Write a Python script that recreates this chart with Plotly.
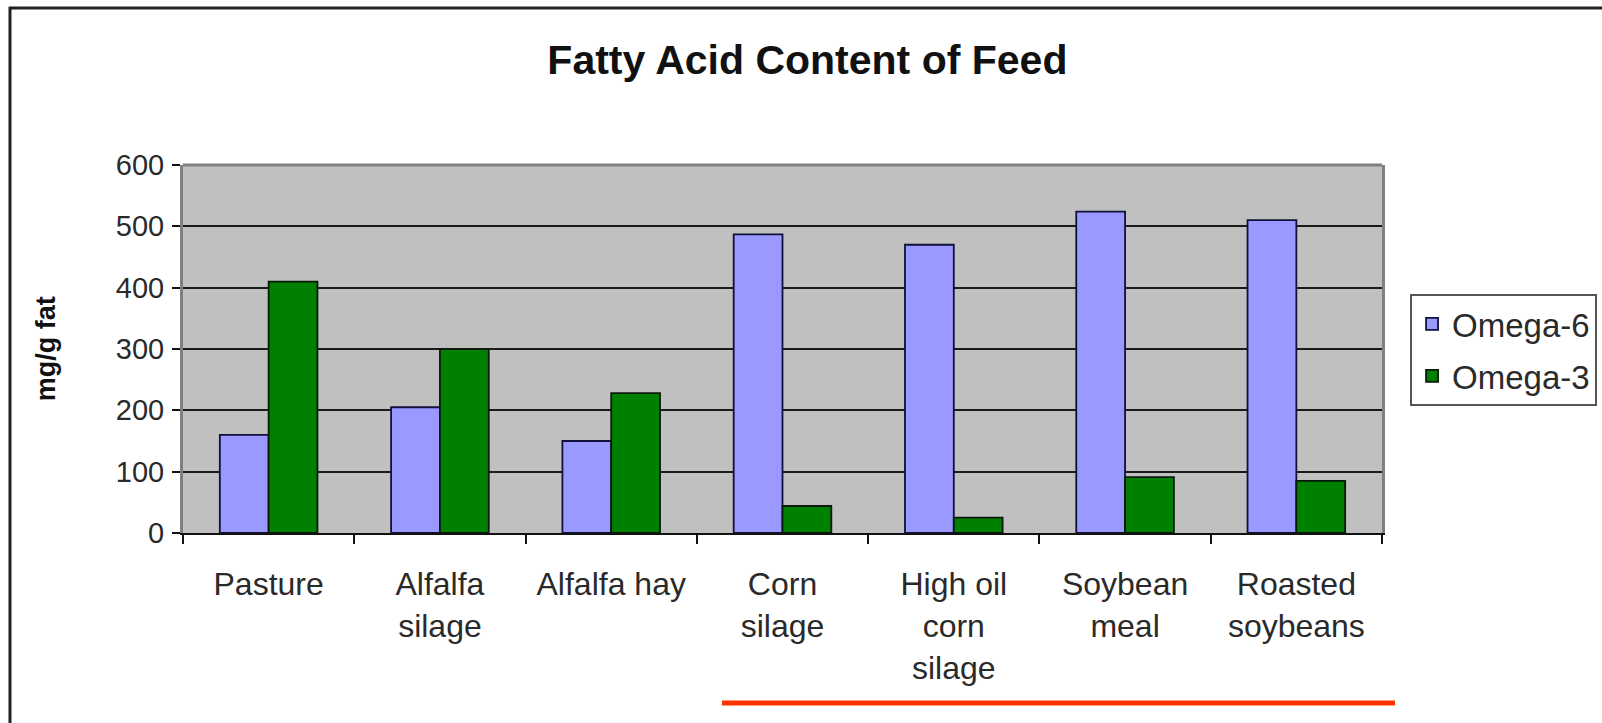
import plotly.graph_objects as go

# Feed types and fatty acid content (mg per g of fat)
feeds = ["Pasture", "Alfalfa<br>silage", "Alfalfa hay", "Corn<br>silage",
         "High oil<br>corn<br>silage", "Soybean<br>meal", "Roasted<br>soybeans"]
omega6 = [160, 205, 150, 487, 470, 524, 510]
omega3 = [410, 300, 228, 44, 25, 91, 85]
y_ticks = [0, 100, 200, 300, 400, 500, 600]

FONT = "Liberation Sans, Arial, sans-serif"
TEXT = "#2a2a2a"

fig = go.Figure()
fig.add_trace(go.Bar(
    name="Omega-6", x=feeds, y=omega6, legendgroup="o6",
    marker=dict(color="#9999FF", line=dict(color="#10103a", width=1.8)),
))
fig.add_trace(go.Bar(
    name="Omega-3", x=feeds, y=omega3, legendgroup="o3",
    marker=dict(color="#008000", line=dict(color="#0a1a0a", width=1.8)),
))

fig.update_layout(
    width=1602, height=723,
    margin=dict(l=183, r=220, t=165, b=190, autoexpand=False),
    paper_bgcolor="white",
    plot_bgcolor="#C0C0C0",
    barmode="group",
    bargap=0.43,
    bargroupgap=0,
    font=dict(family=FONT, color=TEXT),
    title=dict(
        text="<b>Fatty Acid Content of Feed</b>",
        font=dict(size=41, color="#111111"),
        x=0.504, xanchor="center", xref="container",
        y=1 - 60 / 723, yanchor="middle", yref="container",
    ),
    showlegend=True,
    legend=dict(
        x=1.0234, xanchor="left", y=0.6495, yanchor="top",
        bgcolor="white", bordercolor="#555555", borderwidth=2,
        font=dict(size=33, color=TEXT),
        traceorder="grouped", tracegroupgap=6,
    ),
)

fig.update_xaxes(
    showgrid=False,
    ticks="outside", tickson="boundaries", ticklen=9, tickwidth=2, tickcolor="#111111",
    showline=True, linecolor="#111111", linewidth=2,
    tickfont=dict(size=32, color=TEXT),
    ticklabelstandoff=22,
)
fig.update_yaxes(
    range=[0, 600], tickvals=y_ticks,
    showgrid=True, gridcolor="#1a1a1a", gridwidth=1.8,
    zeroline=False,
    ticks="outside", ticklen=8, tickwidth=2, tickcolor="#111111",
    showline=True, linecolor="#808080", linewidth=3, mirror=True,
    tickfont=dict(size=29, color=TEXT),
    ticklabelstandoff=2,
)

fig.add_annotation(
    text="<b>mg/g fat</b>", textangle=-90,
    xref="paper", yref="paper", x=-0.114, y=0.5,
    xanchor="center", yanchor="middle", showarrow=False,
    font=dict(size=27, color="#111111"),
)

# plot-area top edge, outer frame and the red underline
fig.add_shape(type="line", xref="paper", yref="paper", x0=0, x1=1, y0=1, y1=1,
              line=dict(color="#808080", width=3))
fig.add_shape(type="line", xref="paper", yref="paper",
              x0=-0.1443, x1=-0.1443, y0=1.43, y1=-0.52,
              line=dict(color="#222222", width=3))
fig.add_shape(type="line", xref="paper", yref="paper",
              x0=-0.1443, x1=1.19, y0=1.4266, y1=1.4266,
              line=dict(color="#222222", width=3))
fig.add_shape(type="line", xref="paper", yref="paper",
              x0=0.4495, x1=1.0108, y0=-0.462, y1=-0.462,
              line=dict(color="#FF3300", width=5))

fig.write_html("out.html")
